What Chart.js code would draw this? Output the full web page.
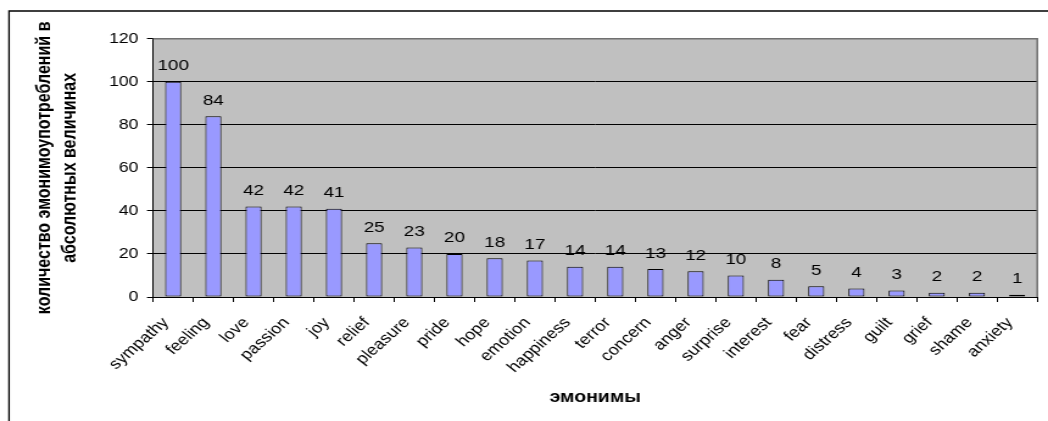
<!DOCTYPE html>
<html>
<head>
<meta charset="utf-8">
<title>эмонимы</title>
<script src="https://cdn.jsdelivr.net/npm/chart.js@4/dist/chart.umd.min.js"></script>
<style>
  html, body { margin: 0; padding: 0; background: #fff; overflow: hidden; }
</style>
</head>
<body>
<canvas id="chart" width="860" height="421" style="display:block;width:1048px;height:421px"></canvas>
<script>
// emonym usage counts
let categories = ["sympathy", "feeling", "love", "passion", "joy", "relief", "pleasure", "pride",
  "hope", "emotion", "happiness", "terror", "concern", "anger", "surprise", "interest",
  "fear", "distress", "guilt", "grief", "shame", "anxiety"];
let counts = [100, 84, 42, 42, 41, 25, 23, 20, 18, 17, 14, 14, 13, 12, 10, 8, 5, 4, 3, 2, 2, 1];
let yTicks = [0, 20, 40, 60, 80, 100, 120];

let yTitle = ["количество эмонимоупотреблений в", "абсолютных величинах"];
let xTitle = "эмонимы";

const FONT = "'Liberation Sans', Arial, sans-serif";

// grey plot area + outer frame
const frame = {
  id: "frame",
  beforeDraw(c) {
    let ctx = c.ctx, a = c.chartArea;
    ctx.save();
    ctx.fillStyle = "#fff";
    ctx.fillRect(0, 0, c.width, c.height);
    ctx.strokeStyle = "#000";
    ctx.lineWidth = 1.3;
    ctx.beginPath();
    ctx.moveTo(7.4, c.height);
    ctx.lineTo(7.4, 11);
    ctx.lineTo(c.width, 11);
    ctx.stroke();
    ctx.fillStyle = "#c0c0c0";
    ctx.fillRect(a.left, a.top, a.right - a.left, a.bottom - a.top);
    ctx.restore();
  },
  beforeDatasetsDraw(c) {
    let ctx = c.ctx, a = c.chartArea;
    ctx.save();
    ctx.strokeStyle = "#707070";
    ctx.lineWidth = 1.5;
    ctx.beginPath();
    ctx.moveTo(a.left, a.top);
    ctx.lineTo(a.right, a.top);
    ctx.lineTo(a.right, a.bottom);
    ctx.stroke();
    ctx.restore();
  }
};

// value labels above the bars
const valueLabels = {
  id: "valueLabels",
  afterDatasetsDraw(c) {
    let ctx = c.ctx;
    let meta = c.getDatasetMeta(0);
    ctx.save();
    ctx.fillStyle = "#000";
    ctx.font = "15.5px " + FONT;
    ctx.textAlign = "center";
    ctx.textBaseline = "alphabetic";
    meta.data.forEach((bar, i) => {
      ctx.fillText(String(counts[i]), bar.x, bar.y - 11.5);
    });
    ctx.restore();
  }
};

chart = new Chart(document.getElementById("chart"), {
  type: "bar",
  data: {
    labels: categories,
    datasets: [{
      data: counts,
      backgroundColor: "#9999ff",
      borderColor: "#000",
      borderWidth: 1,
      borderSkipped: false,
      categoryPercentage: 1,
      barPercentage: 0.4
    }]
  },
  options: {
    responsive: false,
    animation: false,
    layout: { padding: { top: 38.7, right: 5.3, left: 0, bottom: 0 } },
    plugins: { legend: { display: false }, tooltip: { enabled: false } },
    scales: {
      x: {
        afterFit: s => { s.height = 124; },
        grid: { display: true, offset: true, drawOnChartArea: false, color: "#000", tickLength: 5 },
        border: { color: "#000", width: 1 },
        ticks: {
          autoSkip: false, minRotation: 47, maxRotation: 47, padding: 12, labelOffset: -6,
          color: "#000", font: { family: FONT, size: 15 }
        },
        title: {
          display: true, text: xTitle, color: "#000",
          font: { family: FONT, size: 16, weight: "bold" },
          padding: { top: 0, bottom: 14 }
        }
      },
      y: {
        min: 0,
        max: 120,
        afterFit: s => { s.width = 125.6; },
        afterBuildTicks: s => { s.ticks = yTicks.map(v => ({ value: v })); },
        grid: {
          color: ctx => (ctx.tick && ctx.tick.value === 120) ? "rgba(0,0,0,0)" : "#000",
          tickColor: "#000", tickLength: 5, lineWidth: 1
        },
        border: { color: "#000", width: 1 },
        ticks: { padding: 7, color: "#000", font: { family: FONT, size: 14.5 } },
        title: {
          display: true, text: yTitle, color: "#000",
          font: { family: FONT, size: 16, weight: "bold", lineHeight: 1.3 },
          padding: { top: 26, bottom: 0 }
        }
      }
    }
  },
  plugins: [frame, valueLabels]
});
</script>
</body>
</html>
